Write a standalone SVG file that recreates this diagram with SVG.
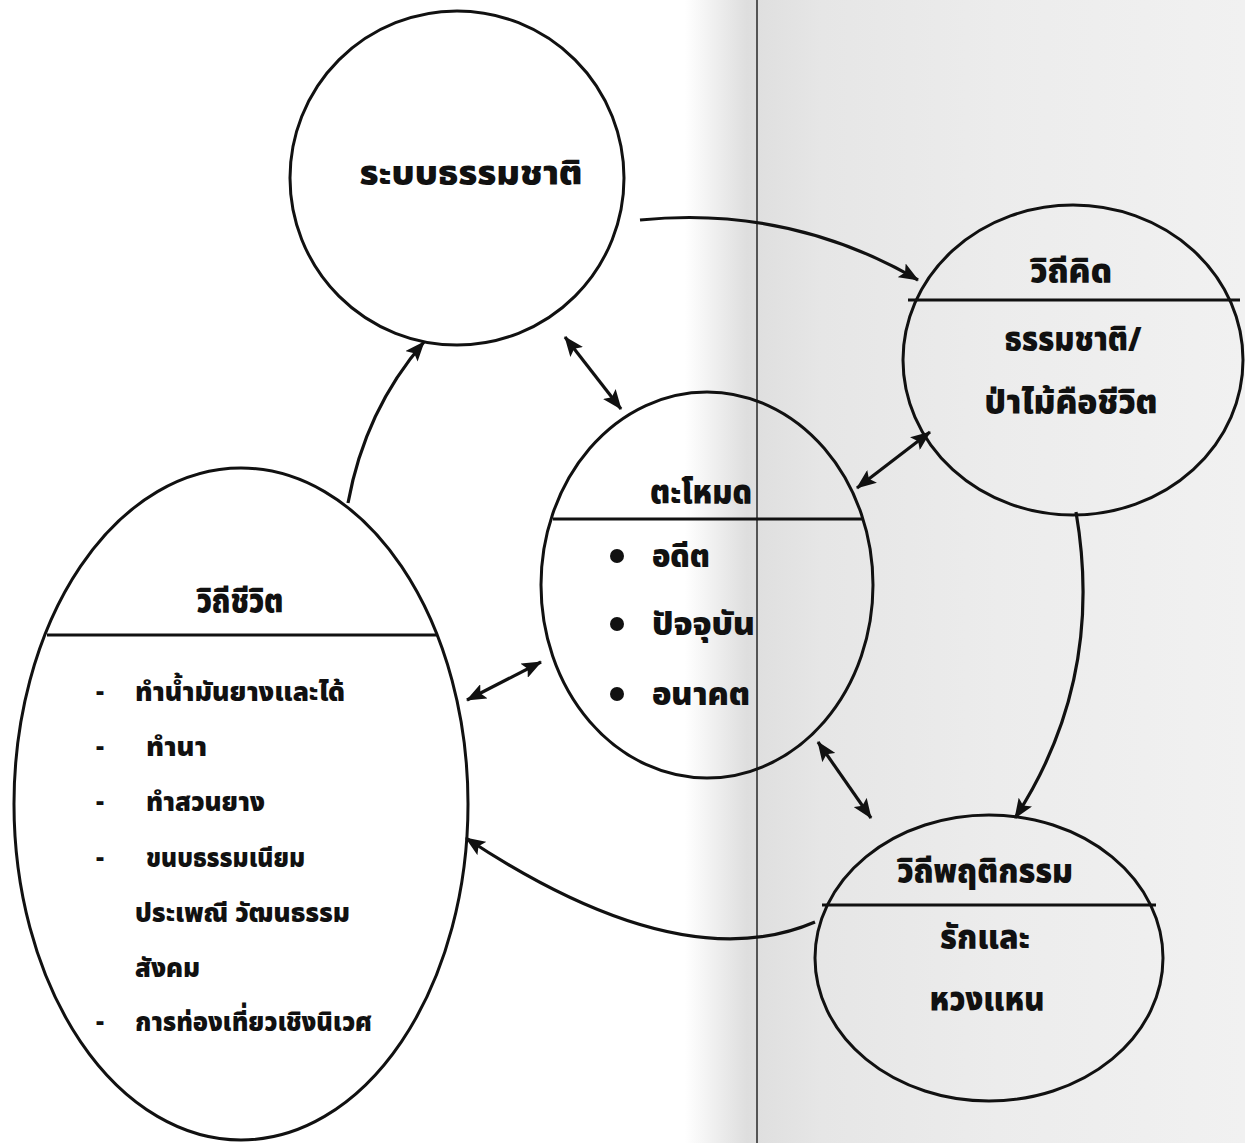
<svg xmlns="http://www.w3.org/2000/svg" width="1245" height="1143" viewBox="0 0 1245 1143">
<style>
.shape{fill:none;stroke:#111;stroke-width:3}
.div{stroke:#111;stroke-width:3}
.con{fill:none;stroke:#111;stroke-width:3.2}
text{font-family:"Noto Sans Thai","Loma","Tlwg Typo","Garuda","Norasi","Noto Sans","DejaVu Sans",sans-serif;font-weight:900;fill:#111}
.t1{font-size:33px;text-anchor:middle}
.t2{font-size:27px}
.t3{font-size:31px}
.dash{font-size:25px}
</style>
<defs>
<linearGradient id="bg" x1="0" y1="0" x2="1245" y2="0" gradientUnits="userSpaceOnUse">
<stop offset="0.55" stop-color="#ffffff"/>
<stop offset="0.6" stop-color="#dedede"/>
<stop offset="0.66" stop-color="#e6e6e6"/>
<stop offset="0.8" stop-color="#ececec"/>
<stop offset="1" stop-color="#f1f1f1"/>
</linearGradient>
<marker id="ah" viewBox="0 0 20 16" refX="19" refY="8" markerWidth="20" markerHeight="16" markerUnits="userSpaceOnUse" orient="auto-start-reverse">
<path d="M0,0 L20,8 L0,16 L4,8 Z" fill="#111"/>
</marker>
</defs>
<rect x="0" y="0" width="1245" height="1143" fill="url(#bg)"/>
<line x1="757" y1="0" x2="757" y2="1143" stroke="#555" stroke-width="2"/>

<g id="node-nature">
<ellipse class="shape" cx="457" cy="178" rx="167" ry="167" fill="#fff"/>
<text class="t1" x="471" y="185" textLength="223" lengthAdjust="spacingAndGlyphs">ระบบธรรมชาติ</text>
</g>

<g id="node-thinking">
<ellipse class="shape" cx="1073" cy="360" rx="170" ry="155"/>
<line class="div" x1="908" y1="300" x2="1240" y2="300"/>
<text class="t1" x="1071" y="283" textLength="82" lengthAdjust="spacingAndGlyphs">วิถีคิด</text>
<text class="t1" x="1073" y="351" textLength="137" lengthAdjust="spacingAndGlyphs">ธรรมชาติ/</text>
<text class="t1" x="1071" y="414" textLength="173" lengthAdjust="spacingAndGlyphs">ป่าไม้คือชีวิต</text>
</g>

<g id="node-tamod">
<ellipse class="shape" cx="707" cy="585" rx="166" ry="193"/>
<line class="div" x1="553" y1="519" x2="862" y2="519"/>
<text class="t1" x="701" y="504" textLength="102" lengthAdjust="spacingAndGlyphs">ตะโหมด</text>
<circle cx="617" cy="556" r="7" fill="#111"/>
<circle cx="617" cy="624" r="7" fill="#111"/>
<circle cx="617" cy="694" r="7" fill="#111"/>
<text class="t3" x="652" y="567" textLength="58" lengthAdjust="spacingAndGlyphs">อดีต</text>
<text class="t3" x="652" y="635" textLength="103" lengthAdjust="spacingAndGlyphs">ปัจจุบัน</text>
<text class="t3" x="652" y="705" textLength="98" lengthAdjust="spacingAndGlyphs">อนาคต</text>
</g>

<g id="node-lifestyle">
<ellipse class="shape" cx="241" cy="804" rx="227" ry="336"/>
<line class="div" x1="47" y1="635" x2="437" y2="635"/>
<text class="t1" x="240" y="613" textLength="87" lengthAdjust="spacingAndGlyphs">วิถีชีวิต</text>
<text class="dash" x="96" y="700">-</text>
<text class="t2" x="135" y="701" textLength="210" lengthAdjust="spacingAndGlyphs">ทำน้ำมันยางและได้</text>
<text class="dash" x="96" y="755">-</text>
<text class="t2" x="146" y="756" textLength="61" lengthAdjust="spacingAndGlyphs">ทำนา</text>
<text class="dash" x="96" y="810">-</text>
<text class="t2" x="146" y="811" textLength="119" lengthAdjust="spacingAndGlyphs">ทำสวนยาง</text>
<text class="dash" x="96" y="866">-</text>
<text class="t2" x="146" y="867" textLength="159" lengthAdjust="spacingAndGlyphs">ขนบธรรมเนียม</text>
<text class="t2" x="135" y="922" textLength="215" lengthAdjust="spacingAndGlyphs">ประเพณี วัฒนธรรม</text>
<text class="t2" x="135" y="977" textLength="65" lengthAdjust="spacingAndGlyphs">สังคม</text>
<text class="dash" x="96" y="1030">-</text>
<text class="t2" x="135" y="1031" textLength="237" lengthAdjust="spacingAndGlyphs">การท่องเที่ยวเชิงนิเวศ</text>
</g>

<g id="node-behavior">
<ellipse class="shape" cx="989" cy="958" rx="174" ry="143"/>
<line class="div" x1="822" y1="905" x2="1156" y2="905"/>
<text class="t1" x="985" y="883" textLength="176" lengthAdjust="spacingAndGlyphs">วิถีพฤติกรรม</text>
<text class="t1" x="985" y="949" textLength="90" lengthAdjust="spacingAndGlyphs">รักและ</text>
<text class="t1" x="987" y="1011" textLength="115" lengthAdjust="spacingAndGlyphs">หวงแหน</text>
</g>

<g id="connectors">
<path class="con" d="M640,220 Q790,205 918,280" marker-end="url(#ah)"/>
<path class="con" d="M1076,512 Q1105,680 1015,818" marker-end="url(#ah)"/>
<path class="con" d="M815,922 Q680,980 466,838" marker-end="url(#ah)"/>
<path class="con" d="M348,503 Q365,410 424,342" marker-end="url(#ah)"/>
<path class="con" d="M565,337 L621,409" marker-start="url(#ah)" marker-end="url(#ah)"/>
<path class="con" d="M930,432 L857,488" marker-start="url(#ah)" marker-end="url(#ah)"/>
<path class="con" d="M467,700 L541,662" marker-start="url(#ah)" marker-end="url(#ah)"/>
<path class="con" d="M818,742 L871,818" marker-start="url(#ah)" marker-end="url(#ah)"/>
</g>
</svg>
